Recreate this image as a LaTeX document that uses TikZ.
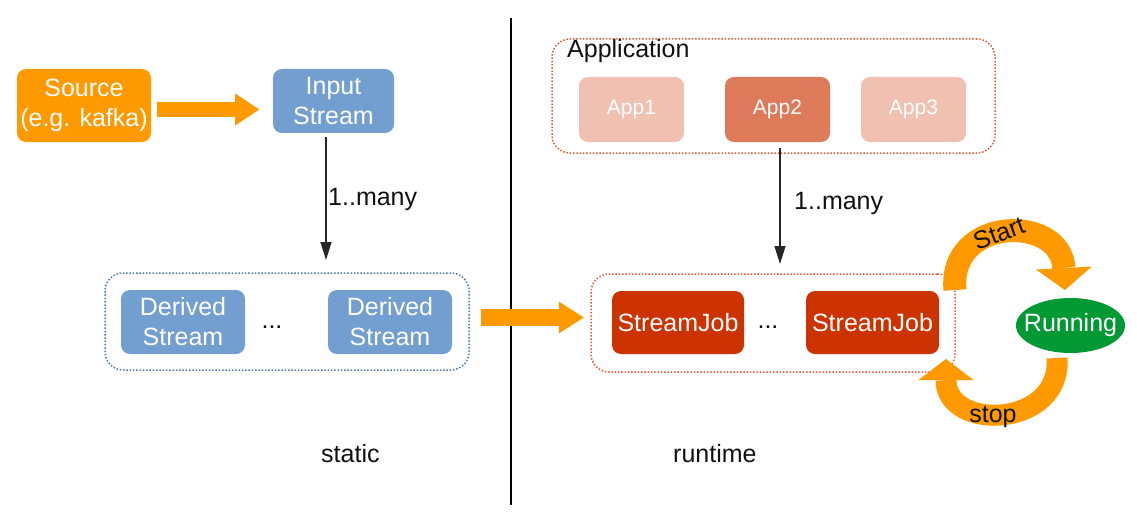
\documentclass[tikz,border=0pt]{standalone}
\usepackage{fontspec}
\setmainfont{Liberation Sans}
\usetikzlibrary{arrows.meta,shapes.geometric}
\definecolor{orng}{HTML}{FF9900}
\definecolor{sblue}{HTML}{729FCF}
\definecolor{fblue}{HTML}{4A78B0}
\definecolor{jobred}{HTML}{CC3300}
\definecolor{fred}{HTML}{E0583A}
\definecolor{appl}{HTML}{F0C0B0}
\definecolor{appd}{HTML}{DD7A5A}
\definecolor{rgreen}{HTML}{009933}
\definecolor{txt}{HTML}{111111}
\begin{document}
\begin{tikzpicture}[x=1pt,y=-1pt,
  every node/.style={font=\fontsize{25}{30}\selectfont, text=txt},
  box/.style={rounded corners=9pt, inner sep=0pt, align=center, text=white},
  frame/.style={rounded corners=18pt, line width=1.5pt, dash pattern=on 1.5pt off 1.8pt},
  lbl/.style={anchor=base west, inner sep=0pt},
  thinarrow/.style={draw=black!85, line width=1.2pt, -{Triangle[length=18pt,width=11pt]}},
  fatarrow/.style={draw=orng, line width=#1},
]
\useasboundingbox (0,0) rectangle (1137,532);

% divider
\coordinate (divtop) at (511,18);
\coordinate (divbot) at (511,505);
\draw[line width=1.2pt] (divtop) -- (divbot);

% static side
\node[box, fill=orng, minimum width=134pt, minimum height=73pt] (source) at (84,105.5) {Source\\(e.g. kafka)};
\node[box, fill=sblue, minimum width=121pt, minimum height=64pt] (input) at (333.5,101) {Input\\Stream};
\node[frame, draw=fblue, minimum width=364pt, minimum height=97pt] (dframe) at (287,321.5) {};
\node[box, fill=sblue, minimum width=124pt, minimum height=64pt] (d1) at (183,322) {Derived\\Stream};
\node[box, fill=sblue, minimum width=124pt, minimum height=64pt] (d2) at (390,322) {Derived\\Stream};
\node[anchor=base, inner sep=0pt] (ddots) at (272,328) {...};

% runtime side
\node[frame, draw=fred, minimum width=443pt, minimum height=114pt] (aframe) at (773.5,96) {};
\node[lbl] (alabel) at (567,58) {Application};
\node[box, fill=appl, minimum width=105pt, minimum height=65pt, font=\fontsize{21}{25}\selectfont] (app1) at (631.5,109.5) {App1};
\node[box, fill=appd, minimum width=105pt, minimum height=65pt, font=\fontsize{21}{25}\selectfont] (app2) at (777.5,109.5) {App2};
\node[box, fill=appl, minimum width=105pt, minimum height=65pt, font=\fontsize{21}{25}\selectfont] (app3) at (913.5,109.5) {App3};

\node[frame, draw=fred, minimum width=364pt, minimum height=98pt] (jframe) at (773,323) {};
\node[box, fill=jobred, minimum width=132pt, minimum height=63pt] (j1) at (678,322.5) {StreamJob};
\node[box, fill=jobred, minimum width=133pt, minimum height=63pt] (j2) at (872.5,322.5) {StreamJob};
\node[anchor=base, inner sep=0pt] (jdots) at (768,328) {...};

\node[ellipse, fill=rgreen, minimum width=109pt, minimum height=55pt, inner sep=0pt] (run) at (1070.5,325.5) {};
\node[text=white, inner sep=0pt] (runlbl) at (run.center) {Running};

% thin arrows
\coordinate (m1end) at (326,260);
\coordinate (m2end) at (780,264);
\draw[thinarrow] ([xshift=-7.5pt,yshift=-4pt]input.south) -- (m1end);
\draw[thinarrow] ([xshift=2.5pt,yshift=-6pt]app2.south) -- (m2end);
\node[lbl] (m1lbl) at (328,205) {1..many};
\node[lbl] (m2lbl) at (794,209) {1..many};

% fat straight arrows
\draw[fatarrow=15pt, -{Triangle[length=24pt,width=32pt,line width=0pt]}] ([xshift=6pt,yshift=-4pt]source.east) -- ++(102,0);
\draw[fatarrow=17pt, -{Triangle[length=25pt,width=32pt,line width=0pt]}] ([xshift=11pt,yshift=4pt]dframe.east) -- ++(103,0);

% start / stop loop
\coordinate (st0) at (955,290);
\coordinate (st1) at (1065,290);
\coordinate (sp0) at (1057,358);
\coordinate (sp1) at (946,359);
\draw[fatarrow=23pt, -{Triangle[length=22pt,width=56pt,line width=0pt]}] (st0) .. controls (948,216) and (1061,214) .. (st1);
\draw[fatarrow=21pt, -{Triangle[length=21pt,width=55pt,line width=0pt]}] (sp0) .. controls (1062,428) and (946,432) .. (sp1);
\node[rotate=20] (startlbl) at (999,233) {Start};
\node (stoplbl) at (993,417) {stop};

% bottom labels
\node[lbl] (static) at (321,462) {static};
\node[lbl] (runtime) at (673,462) {runtime};
\end{tikzpicture}
\end{document}
